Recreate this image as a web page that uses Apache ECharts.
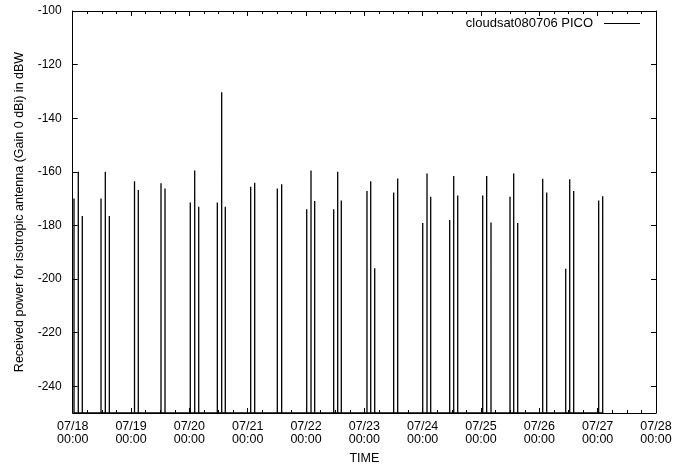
<!DOCTYPE html>
<html>
<head>
<meta charset="utf-8">
<script src="https://cdn.jsdelivr.net/npm/echarts@6/dist/echarts.min.js"></script>
<style>
  html, body { margin: 0; padding: 0; background: #fff; }
  #chart { width: 675px; height: 470px; }
</style>
</head>
<body>
<div id="chart"></div>
<script>
// Pass times (MM/DD HH:MM, July 2008) and received power peaks (dBW)
const passTimes = [
  '07/18 00:32', '07/18 02:18', '07/18 03:57', '07/18 11:39', '07/18 13:25', '07/18 15:04',
  '07/19 01:26', '07/19 02:59', '07/19 12:20', '07/19 13:59',
  '07/20 00:23', '07/20 02:12', '07/20 03:51', '07/20 11:30', '07/20 13:18', '07/20 14:47',
  '07/21 01:14', '07/21 02:53', '07/21 12:11', '07/21 13:59',
  '07/22 00:17', '07/22 02:03', '07/22 03:34', '07/22 11:23', '07/22 13:02', '07/22 14:31',
  '07/23 01:05', '07/23 02:37', '07/23 04:16', '07/23 12:04', '07/23 13:43',
  '07/24 00:01', '07/24 01:47', '07/24 03:18', '07/24 11:07', '07/24 12:46', '07/24 14:25',
  '07/25 00:42', '07/25 02:20', '07/25 04:07', '07/25 11:56', '07/25 13:27', '07/25 15:06',
  '07/26 01:23', '07/26 03:02', '07/26 10:51', '07/26 12:30', '07/26 14:08',
  '07/27 00:25', '07/27 02:04'
];
const passPower = [
  -170, -160, -176.5, -170, -160, -176.5,
  -163.5, -166.8, -164.3, -166.2,
  -171.5, -159.5, -173, -171.5, -130.3, -173,
  -165.6, -164.1, -166.2, -164.6,
  -174, -159.5, -170.9, -174, -160, -170.7,
  -167.2, -163.5, -196, -167.7, -162.5,
  -179.1, -160.6, -169.3, -178, -161.6, -168.8,
  -168.8, -161.6, -178.9, -169.3, -160.6, -179.1,
  -162.6, -167.7, -196.2, -162.8, -167.2,
  -170.7, -169.1
];
const dayLabels = ['07/18', '07/19', '07/20', '07/21', '07/22', '07/23', '07/24', '07/25', '07/26', '07/27', '07/28'];
const seriesName = 'cloudsat080706 PICO';
const floorValue = -250;
const ceilValue = -100;

function toHours(s) {
  const [d, t] = s.split(' ');
  const day = parseInt(d.split('/')[1], 10);
  const [hh, mm] = t.split(':').map(Number);
  return (day - 18) * 24 + hh + mm / 60;
}

const lineData = [];
passTimes.forEach((t, i) => {
  const h = toHours(t);
  lineData.push([h, floorValue], [h, passPower[i]], [h, floorValue]);
});

const FONT = 'Liberation Sans, Arial, Helvetica, sans-serif';
const chart = echarts.init(document.getElementById('chart'), null, { renderer: 'canvas' });

const xCommon = {
  type: 'value', min: 0, max: 240, interval: 24,
  axisLine: { show: true, onZero: false, lineStyle: { color: '#000', width: 1 } },
  axisTick: { show: true, inside: true, length: 5, lineStyle: { color: '#000' } },
  minorTick: { show: true, splitNumber: 4, length: 3, lineStyle: { color: '#000' } },
  splitLine: { show: false }
};
const yCommon = {
  type: 'value', min: floorValue, max: ceilValue, splitNumber: 8,
  axisLine: { show: true, onZero: false, lineStyle: { color: '#000', width: 1 } },
  axisTick: { show: true, inside: true, length: 5, lineStyle: { color: '#000' } },
  splitLine: { show: false }
};

chart.setOption({
  animation: false,
  backgroundColor: '#fff',
  grid: { left: 72.7, right: 19, top: 11, bottom: 57, containLabel: false },
  legend: {
    show: true,
    data: [seriesName],
    align: 'right',
    right: 30,
    top: 12,
    icon: 'rect',
    itemWidth: 36,
    itemHeight: 1.2,
    itemStyle: { color: '#000' },
    formatter: '{a|{name}}',
    textStyle: {
      color: '#000', fontFamily: FONT, fontSize: 13,
      rich: { a: { fontFamily: FONT, fontSize: 13, color: '#000', padding: [0, 6, 0, 0] } }
    }
  },
  xAxis: [
    Object.assign({}, xCommon, {
      position: 'bottom',
      name: 'TIME',
      nameLocation: 'middle',
      nameGap: 39,
      nameTextStyle: { color: '#000', fontFamily: FONT, fontSize: 12.5 },
      axisLabel: {
        show: true, margin: 7, color: '#000', fontFamily: FONT, fontSize: 12.5, lineHeight: 13,
        formatter: v => dayLabels[Math.round(v / 24)] + '\n00:00'
      }
    }),
    Object.assign({}, xCommon, { position: 'top', axisLabel: { show: false } })
  ],
  yAxis: [
    Object.assign({}, yCommon, {
      position: 'left',
      name: 'Received power for isotropic antenna (Gain 0 dBi) in dBW',
      nameLocation: 'middle',
      nameGap: 47,
      nameRotate: 90,
      nameTextStyle: { color: '#000', fontFamily: FONT, fontSize: 12.5 },
      axisLabel: {
        show: true, margin: 11, color: '#000', fontFamily: FONT, fontSize: 12,
        showMinLabel: false
      }
    }),
    Object.assign({}, yCommon, { position: 'right', axisLabel: { show: false } })
  ],
  series: [{
    name: seriesName,
    type: 'line',
    xAxisIndex: 0,
    yAxisIndex: 0,
    data: lineData,
    symbol: 'none',
    showSymbol: false,
    clip: true,
    lineStyle: { color: '#000', width: 1.3 },
    itemStyle: { color: '#000' }
  }]
});
</script>
</body>
</html>
